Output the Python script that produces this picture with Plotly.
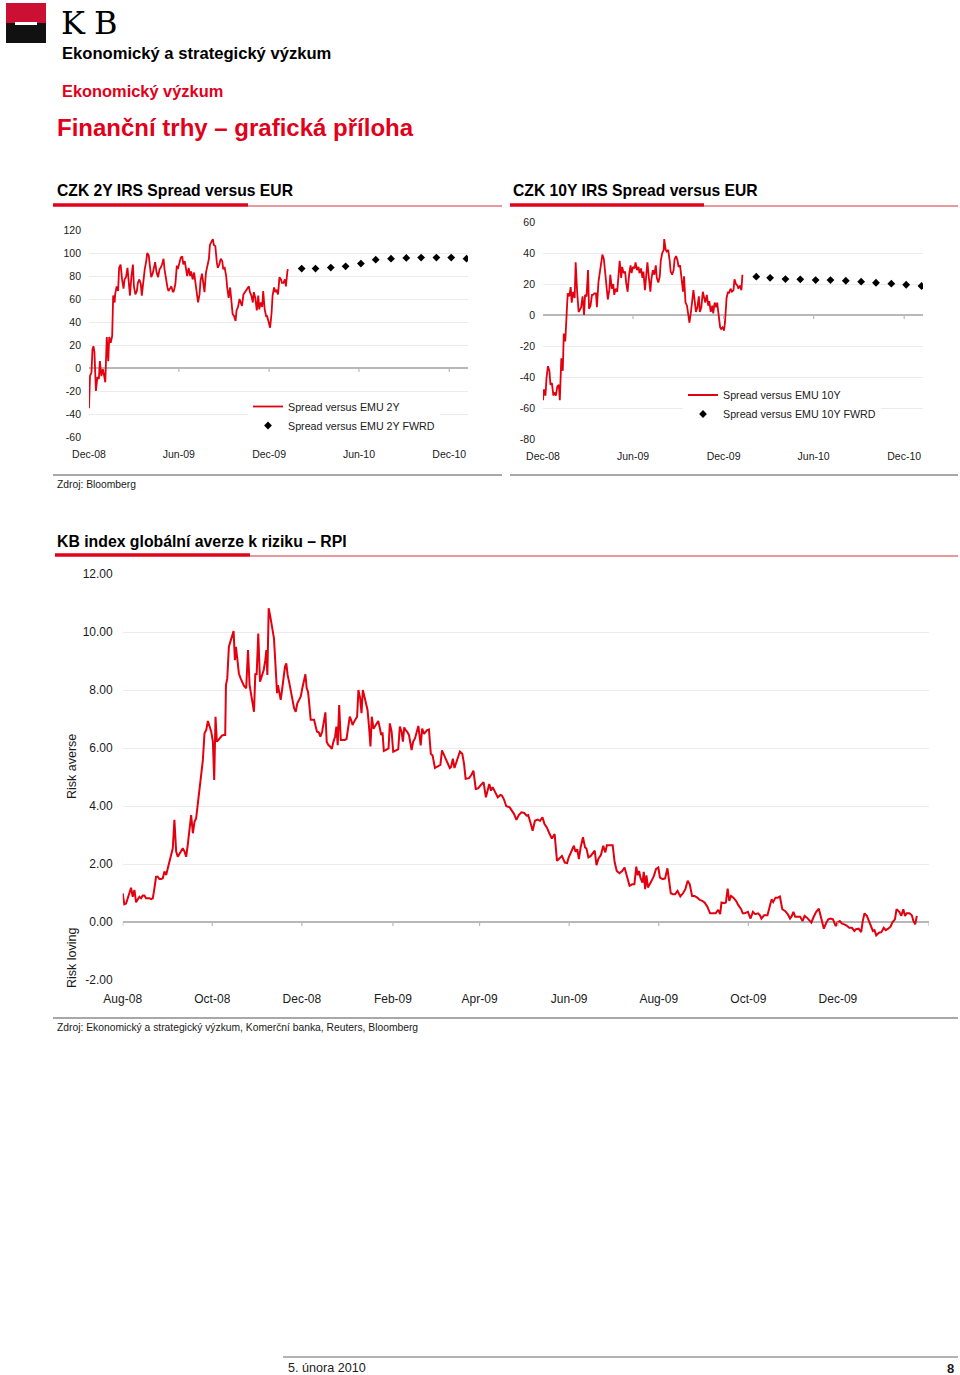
import pandas as pd
import plotly.graph_objects as go

# ---------------- DATA ----------------
# CZK 2Y IRS spread vs EUR (bp), day offsets from 2008-12-01
start_spread = "2008-12-01"
days_2y = [0, 2, 5, 7, 9, 11, 14, 17, 20, 22, 25, 28, 30, 33, 36, 39, 41, 44, 47, 49, 52,
           53, 56, 59, 61, 64, 67, 70, 72, 75, 78, 80, 83, 86, 89, 91, 94, 97, 99, 102, 105,
           107, 110, 113, 116, 118, 121, 124, 126, 129, 132, 134, 137, 140, 143, 145, 148, 151, 153, 156, 159,
           161, 164, 167, 170, 172, 175, 178, 180, 183, 186, 189, 191, 194, 197, 199, 202, 205, 207, 210, 213,
           216, 218, 221, 224, 226, 229, 232, 234, 237, 240, 243, 245, 248, 251, 253, 256, 259, 261, 264, 267,
           270, 272, 275, 278, 280, 283, 286, 289, 291, 294, 297, 299, 302, 305, 307, 310, 313, 316, 318, 321,
           324, 326, 329, 332, 334, 337, 340, 343, 345, 348, 351, 353, 356, 359, 361, 364, 367, 370, 372, 375,
           378, 380, 383, 386, 389, 391, 394, 397, 399, 402, 403]
spread_2y = [-35, -7, -4, 16, 19, 14, -20, -8, -9.5, 6, -7, -1, -5, -12.4, 27, 6, 27, 22, 28, 63, 57,
             64, 71, 67, 87, 90, 77, 69, 77, 79, 87, 77, 63, 80, 90, 71, 64, 67, 74, 77, 73,
             63, 77, 86, 93, 100, 98, 87, 79, 82, 90, 92, 83, 79, 86, 87, 90, 95, 86, 77, 70,
             67, 69, 71, 66, 67, 73, 89, 86, 92, 96, 97, 90, 93, 84, 80, 87, 80, 84, 77, 83,
             73, 66, 57, 64, 76, 82, 74, 66, 83, 89, 95, 107, 109, 112, 107, 106, 92, 87, 90, 95,
             93, 86, 87, 80, 70, 61, 70, 54, 47, 45, 41, 50, 53, 60, 58, 54, 64, 66, 68, 70,
             71, 66, 63, 57, 66, 61, 50, 63, 51, 57, 53, 67, 51, 45, 45, 40, 35, 48, 63, 70,
             66, 68, 64, 79, 77, 74, 74, 77, 71, 84, 86]

# CZK 10Y IRS spread vs EUR (bp)
days_10y = [0, 2, 5, 7, 10, 13, 15, 18, 21, 23, 26, 29, 32, 34, 37, 40, 42, 45, 48, 50, 53, 56,
            58, 61, 64, 66, 69, 72, 74, 77, 80, 83, 85, 88, 91, 93, 96, 99, 101, 104, 107, 109,
            112, 115, 117, 120, 123, 126, 128, 131, 134, 136, 139, 142, 144, 147, 150, 152, 155, 158, 160,
            163, 166, 168, 171, 174, 177, 179, 182, 185, 187, 190, 193, 195, 198, 201, 203, 206, 209, 211,
            214, 217, 219, 222, 225, 228, 230, 233, 236, 238, 241, 244, 245,
            248, 250, 253, 256, 258, 261, 264, 266, 269, 272, 274, 277, 280, 283, 285, 288, 291, 293,
            296, 299, 301, 304, 307, 309, 312, 315, 317, 320, 323, 326, 328, 331, 334, 336, 339, 342,
            344, 347, 350, 352, 355, 358, 360, 363, 366, 368, 371, 374, 376, 379, 382, 385, 387, 390,
            393, 395, 398, 401, 403]
spread_10y = [-55, -48, -52, -41, -33, -36, -45, -44, -52, -50, -52, -46, -45, -55, -28, -36, -12, -17,
              2, 14, 12, 18, 8, 15, 11, 34, 15, 2, 3, 5, 12, 0, 13, 12, 29, 4, 6, 13, 13, 14, 14, 5,
              21, 27, 32, 39, 36, 26, 24, 10, 16, 26, 17, 20, 13, 17, 15, 24, 35, 24, 31, 27,
              28, 21, 15, 26, 32, 27, 31, 30, 34, 29, 31, 27, 30, 24, 28, 16, 26, 34, 24, 15,
              23, 29, 26, 32, 24, 21, 25, 35, 40, 42, 49,
              42, 41, 42, 35, 28, 26, 29, 36, 38, 35, 31, 32, 24, 15, 25, 8, 6, 2, -5, 2,
              8, 16, 8, 2, 5, 12, 2, 5, 15, 11, 8, 13, 6, 9, 2, 6, 1, 8, 5, 8,
              1, -8, -9, -8, -10, -4, 11, 15, 14, 17, 15, 16, 23, 20, 19, 17, 19, 16, 26]

# Forward spreads (monthly from Feb-10)
fwd_dates = ["2010-02-05", "2010-03-05", "2010-04-05", "2010-05-05", "2010-06-05", "2010-07-05",
             "2010-08-05", "2010-09-05", "2010-10-05", "2010-11-05", "2010-12-05", "2011-01-05"]
fwd_2y = [86.5, 86.5, 87.3, 88.4, 90.8, 94.2, 95.1, 95.7, 96.0, 96.0, 96.0, 95.1]
fwd_10y = [24.7, 24.0, 23.2, 23.0, 22.5, 22.5, 22.1, 21.5, 20.8, 20.2, 19.5, 18.7]

# KB RPI index, day offsets from 2008-08-01
start_rpi = "2008-08-01"
rpi_days = [0, 1.1, 2.3, 3.4, 4.5, 5.7, 6.8, 8.0, 9.1, 10.2, 11.4, 12.5, 13.6, 14.8, 15.9, 17.1, 18.2,
            19.3, 20.5, 21.6, 22.7, 23.9, 25.0, 26.2, 27.3, 28.4, 29.6, 30.7, 31.8, 33.0, 34.1, 35.2,
            36.4, 37.5, 38.7, 39.8, 40.9, 42.1, 43.2, 44.3, 45.5, 46.6, 47.8, 48.9, 50.0, 51.2, 52.3,
            53.4, 54.6, 55.7, 56.9, 58.0, 59.1, 60.3, 61.4, 62.3, 63.2, 64.1, 65.3, 66.4, 67.5, 68.9,
            69.8, 70.3, 71.2, 72.3, 73.5, 74.6, 75.5, 76.4, 77.1, 78.0, 79.1, 80.3, 81.4, 82.5, 84.1,
            85.3, 86.4, 87.5, 88.5, 89.4, 90.3, 91.2, 92.3, 93.5, 94.6, 96.0, 97.1, 97.8, 98.5, 99.4,
            100.5, 101.7, 103.0, 103.9, 105.1, 105.7, 106.7, 107.6, 108.5, 109.4, 110.5, 111.4, 112.3,
            113.5, 114.4, 115.5, 116.7, 117.8, 118.9, 120.1, 121.2, 122.3, 123.5, 124.4, 125.3, 126.2,
            127.1, 128.0, 129.2, 130.3, 131.4, 132.3, 133.5, 134.6, 135.8, 136.9, 138.0, 138.9, 140.1,
            141.2, 142.4, 143.5, 144.6, 145.5, 146.4, 147.4, 148.5, 149.9, 151.2, 152.4, 153.5, 154.6,
            155.5, 156.5, 157.6, 158.7, 159.6, 160.5, 161.7, 162.6, 163.5, 164.6, 165.8, 166.7, 167.8,
            168.7, 169.6, 170.8, 171.7, 172.8, 174.0, 175.1, 176.0, 176.9, 177.8, 179.0, 180.1, 181.0,
            181.9, 183.1, 184.2, 185.3, 186.5, 187.6, 188.7, 189.9, 190.8, 191.7, 192.6, 193.7, 194.9,
            195.8, 196.7, 197.8, 199.0,
            201.3, 202.9, 203.9, 205.2, 207.1, 208.5, 209.8, 211.0, 212.6, 214.4, 216.3, 217.4, 219.0,
            220.9, 222.7, 223.6, 224.8, 225.9, 227.8, 229.6, 231.2, 232.4, 233.5, 235.8, 237.4, 238.8,
            240.4, 242.0, 243.9, 245.7, 247.3, 248.5, 249.6, 250.8, 251.9, 253.6, 255.4, 257.2, 258.2,
            259.5, 261.2, 263.4, 265.1, 266.4, 268.1, 269.7, 271.5, 273.4, 275.0, 276.1, 277.9, 279.1,
            280.7, 282.5, 284.2, 285.8, 287.2, 288.8, 290.4, 292.2, 294.1, 295.7, 297.3, 299.1, 301.0,
            302.6, 303.7, 305.6, 307.2, 308.3, 309.5, 310.6, 311.8, 313.4, 314.8, 315.7, 317.1, 318.7,
            319.8, 321.4, 322.6, 324.0, 325.6, 327.2, 328.6, 329.7, 331.3, 333.6, 335.0, 336.4, 338.2,
            340.1, 341.7, 343.3, 345.1, 347.0, 348.4, 349.7, 350.7, 351.6, 352.5, 353.9, 354.8, 355.7,
            356.6, 357.6, 358.9, 360.1, 361.7, 363.1, 364.7, 365.8, 367.7, 369.3, 370.9, 372.3, 373.2,
            374.6, 376.2, 377.8, 379.7, 381.5, 383.1, 384.7, 386.1, 387.7, 389.3, 391.2, 393.0, 394.6,
            396.2, 398.1, 399.9, 401.5, 403.8, 405.4, 406.8, 407.7, 409.6, 410.7, 411.9, 413.0, 414.2,
            415.8, 417.6, 419.2, 421.1, 422.2, 423.4, 425.7, 427.5, 429.1, 430.7, 432.6, 433.9, 434.9,
            436.7, 439.0, 440.6, 441.8, 442.9, 444.5, 445.9, 447.5, 449.1, 451.0, 452.8, 454.4, 455.6,
            456.7, 457.9, 459.7, 461.3, 462.9, 464.3, 465.9, 467.5, 468.9, 470.5, 472.2, 474.0, 475.8,
            477.4, 479.1, 480.4, 482.0, 483.6, 485.5, 486.6, 488.3, 489.6, 491.3, 492.9, 494.7, 496.5,
            498.2, 499.3, 501.1, 502.8, 503.9, 505.1, 506.7, 508.5, 509.7, 510.8, 511.9, 513.1, 514.9,
            516.6, 518.2, 519.6, 521.2, 522.8, 524.2, 525.8, 526.9, 528.8, 530.1, 531.5, 532.7, 533.8,
            535.7, 537.3, 538.4, 539.6, 540.7]
rpi_values = [0.99, 0.61, 0.64, 0.82, 0.93, 1.18, 0.87, 1.10, 0.68, 0.76, 0.87, 0.82, 0.91, 0.91, 0.82,
              0.82, 0.82, 0.79, 0.82, 1.16, 1.56, 1.56, 1.48, 1.48, 1.51, 1.74, 1.62, 1.85, 2.08, 2.31,
              2.54, 3.52, 2.43, 2.25, 2.37, 2.43, 2.54, 2.43, 2.25, 2.66, 3.23, 3.69, 3.06, 3.46, 3.57,
              4.15, 4.61, 5.07, 5.59, 6.51, 6.62, 6.93, 6.74, 6.56, 6.22, 4.90, 7.08, 6.22, 6.28, 6.36,
              6.43, 6.45, 6.45, 8.17, 8.40, 9.49, 9.72, 9.95, 10.03, 9.03, 9.49, 9.09, 8.57, 8.40, 8.26,
              8.15, 8.06, 9.38, 8.17, 7.83, 7.54, 7.25, 8.57, 8.52, 9.95, 8.29, 8.46, 8.69, 9.03, 9.38,
              8.52, 10.82, 10.53, 10.13, 9.78, 8.98, 7.89, 8.17, 7.94, 7.66, 8.00, 8.40, 8.80, 8.92,
              8.52, 8.23, 7.94, 7.66, 7.37, 7.25, 7.54, 7.66, 7.77, 8.06, 8.29, 8.54, 8.06, 7.94, 7.48,
              6.97, 6.97, 6.97, 6.74, 6.56, 6.54, 6.39, 6.56, 6.85, 7.23, 6.22, 6.10, 6.05, 5.97, 6.22,
              6.39, 6.74, 6.10, 7.48, 6.28, 6.28, 6.28, 6.31, 6.68, 7.08, 6.97, 6.79, 6.91, 7.02, 7.08,
              8.00, 7.71, 7.20, 8.00, 7.77, 7.54, 7.31, 6.68, 6.05, 7.08, 6.66, 6.74, 6.85, 6.93, 6.68,
              6.45, 6.54, 5.90, 5.93, 5.95, 5.99, 6.85, 6.56, 5.87, 5.90, 5.93, 5.95, 6.74, 6.56, 6.22,
              6.71, 6.62, 6.56, 6.45, 6.16, 5.93, 6.22, 6.33,
              6.76, 6.09, 6.67, 6.49, 6.61, 6.64, 5.80, 5.74, 5.31, 5.37, 5.42, 5.92, 5.74, 5.51, 5.31,
              5.35, 5.63, 5.31, 5.57, 5.88, 5.80, 5.46, 4.94, 4.96, 5.07, 5.22, 4.59, 4.61, 4.73, 4.82,
              4.30, 4.59, 4.76, 4.53, 4.65, 4.48, 4.30, 4.38, 4.36, 4.24, 3.99, 3.96, 3.84, 3.73, 3.52,
              3.69, 3.78, 3.76, 3.67, 3.69, 3.38, 3.15, 3.49, 3.53, 3.49, 3.61, 3.38, 3.26, 3.07, 2.88,
              3.03, 2.11, 2.19, 2.28, 2.05, 2.03, 2.23, 2.42, 2.63, 2.42, 2.51, 2.17, 2.57, 2.92, 2.57,
              2.54, 2.23, 2.28, 2.34, 2.46, 1.96, 2.19, 2.31, 2.63, 2.40, 2.65, 2.65, 2.65, 2.05, 1.76,
              1.68, 1.76, 1.88, 1.59, 1.25, 1.30, 1.30, 1.91, 1.61, 1.76, 1.53, 1.36, 1.73, 1.13, 1.61,
              1.19, 1.30, 1.42, 1.59, 1.82, 1.88, 1.53, 1.48, 1.50, 1.85, 1.42, 0.99, 0.96, 0.96, 1.07,
              0.88, 0.99, 1.13, 1.42, 1.30, 0.90, 0.90, 0.84, 0.76, 0.73, 0.67, 0.53, 0.30, 0.30, 0.30,
              0.42, 0.27, 0.67, 0.65, 0.67, 1.15, 0.73, 0.90, 0.84, 0.73, 0.58, 0.44, 0.30, 0.30, 0.35,
              0.12, 0.35, 0.27, 0.30, 0.23, 0.12, 0.23, 0.23, 0.61, 0.78, 0.69, 0.84, 0.84, 0.88, 0.44,
              0.38, 0.27, 0.12, 0.21, 0.35, 0.18, 0.18, 0.18, 0.03, 0.21, 0.15, 0.07, -0.02, 0.18, 0.35,
              0.46, 0.03, -0.23, -0.02, 0.09, 0.12, 0.09, -0.14, -0.02, 0.03, -0.05, -0.08, -0.12, -0.20,
              -0.20, -0.31, -0.25, -0.23, -0.35, 0.03, 0.30, 0.21, -0.02, -0.16, -0.31, -0.28, -0.46,
              -0.37, -0.35, -0.20, -0.28, -0.23, -0.16, 0.00, 0.09, 0.44, 0.35, 0.21, 0.44, 0.21, 0.30,
              0.30, 0.23, 0.03, -0.08, 0.21]

# Axis ticks / labels
spread_xticks = ["2008-12-01", "2009-06-01", "2009-12-01", "2010-06-01", "2010-12-01"]
spread_xlabels = ["Dec-08", "Jun-09", "Dec-09", "Jun-10", "Dec-10"]
y2_ticks = [-60, -40, -20, 0, 20, 40, 60, 80, 100, 120]
y10_ticks = [-80, -60, -40, -20, 0, 20, 40, 60]
rpi_xticks = ["2008-08-01", "2008-10-01", "2008-12-01", "2009-02-01", "2009-04-01",
              "2009-06-01", "2009-08-01", "2009-10-01", "2009-12-01"]
rpi_xlabels = ["Aug-08", "Oct-08", "Dec-08", "Feb-09", "Apr-09", "Jun-09", "Aug-09", "Oct-09", "Dec-09"]
rpi_yticks = [-2, 0, 2, 4, 6, 8, 10, 12]

assert len(days_2y) == len(spread_2y)
assert len(days_10y) == len(spread_10y)
assert len(rpi_days) == len(rpi_values)

# ---------------- HELPERS ----------------
W, H = 960, 1375
def px(x):
    return x / W
def py(y):
    return 1 - y / H

FONT = "Liberation Sans, Arial, Helvetica, sans-serif"
RED = "#e2001a"
LINE_RED = "#e3000f"
TXT = "#1a1a1a"
GRID = "#ebebeb"
ZERO = "#b8b8b8"

def to_dates(start, days):
    base = pd.Timestamp(start)
    return [base + pd.Timedelta(days=d) for d in days]

fig = go.Figure()

fig.add_trace(go.Scatter(x=to_dates(start_spread, days_2y), y=spread_2y, mode="lines",
                         line=dict(color=LINE_RED, width=1.8), name="Spread versus EMU 2Y",
                         xaxis="x", yaxis="y", legend="legend"))
fig.add_trace(go.Scatter(x=fwd_dates, y=fwd_2y, mode="markers",
                         marker=dict(symbol="diamond", size=6, color="black"),
                         name="Spread versus EMU 2Y FWRD", xaxis="x", yaxis="y", legend="legend"))
fig.add_trace(go.Scatter(x=to_dates(start_spread, days_10y), y=spread_10y, mode="lines",
                         line=dict(color=LINE_RED, width=1.8), name="Spread versus EMU 10Y",
                         xaxis="x2", yaxis="y2", legend="legend2"))
fig.add_trace(go.Scatter(x=fwd_dates, y=fwd_10y, mode="markers",
                         marker=dict(symbol="diamond", size=6, color="black"),
                         name="Spread versus EMU 10Y FWRD", xaxis="x2", yaxis="y2", legend="legend2"))
fig.add_trace(go.Scatter(x=to_dates(start_rpi, rpi_days), y=rpi_values, mode="lines",
                         line=dict(color=LINE_RED, width=2), name="RPI",
                         xaxis="x3", yaxis="y3", showlegend=False))

xcommon = dict(type="date", showgrid=False, zeroline=False, showline=False, ticks="",
               tickfont=dict(family=FONT, size=10.5, color=TXT), fixedrange=True, automargin=False)
ycommon = dict(showgrid=True, gridcolor=GRID, gridwidth=1, zeroline=True, zerolinecolor=ZERO,
               zerolinewidth=1.5, showline=False, ticks="", automargin=False,
               tickfont=dict(family=FONT, size=10.5, color=TXT), fixedrange=True)

fig.update_layout(
    width=W, height=H, margin=dict(l=0, r=0, t=0, b=0, pad=0, autoexpand=False),
    paper_bgcolor="white", plot_bgcolor="white",
    font=dict(family=FONT, color=TXT),
    xaxis=dict(xcommon, domain=[px(89), px(468)], anchor="y",
               range=["2008-12-01", "2011-01-08"], tickvals=spread_xticks, ticktext=spread_xlabels,
               ticklabelstandoff=9),
    yaxis=dict(ycommon, domain=[py(437), py(230)], anchor="x", range=[-60, 120],
               tickvals=y2_ticks, ticktext=[str(v) for v in y2_ticks], ticklabelstandoff=7),
    xaxis2=dict(xcommon, domain=[px(543), px(923)], anchor="y2",
                range=["2008-12-01", "2011-01-08"], tickvals=spread_xticks, ticktext=spread_xlabels,
                ticklabelstandoff=9),
    yaxis2=dict(ycommon, domain=[py(439), py(222)], anchor="x2", range=[-80, 60],
                tickvals=y10_ticks, ticktext=[str(v) for v in y10_ticks], ticklabelstandoff=7),
    xaxis3=dict(xcommon, domain=[px(122.7), px(929)], anchor="y3",
                range=["2008-08-01", "2010-02-01"], tickvals=rpi_xticks, ticktext=rpi_xlabels,
                tickfont=dict(family=FONT, size=12, color=TXT), ticklabelstandoff=10),
    yaxis3=dict(ycommon, domain=[py(980), py(574)], anchor="x3", range=[-2, 12],
                tickvals=rpi_yticks, ticktext=["%.2f" % v for v in rpi_yticks],
                tickfont=dict(family=FONT, size=12, color=TXT), ticklabelstandoff=9),
    legend=dict(x=px(248), y=py(392), xanchor="left", yanchor="top", bgcolor="white",
                font=dict(family=FONT, size=10.7, color=TXT), tracegroupgap=0, borderwidth=0),
    legend2=dict(x=px(683), y=py(380.5), xanchor="left", yanchor="top", bgcolor="white",
                 font=dict(family=FONT, size=10.7, color=TXT), tracegroupgap=0, borderwidth=0),
)

shapes = []
# Logo
shapes.append(dict(type="rect", xref="paper", yref="paper", x0=px(6), x1=px(46), y0=py(23), y1=py(3),
                   fillcolor="#cc1034", line=dict(width=0)))
shapes.append(dict(type="rect", xref="paper", yref="paper", x0=px(6), x1=px(46), y0=py(43), y1=py(23),
                   fillcolor="#111111", line=dict(width=0)))
shapes.append(dict(type="rect", xref="paper", yref="paper", x0=px(15), x1=px(37), y0=py(25), y1=py(22),
                   fillcolor="white", line=dict(width=0)))

def hline(x0, x1, y, color, width):
    shapes.append(dict(type="line", xref="paper", yref="paper", x0=px(x0), x1=px(x1), y0=py(y), y1=py(y),
                       line=dict(color=color, width=width)))

# title underlines
hline(53, 248, 205, RED, 3.5)
hline(248, 502, 206, "#d4343f", 1.2)
hline(510, 704, 205, RED, 3.5)
hline(704, 958, 206, "#d4343f", 1.2)
hline(55, 250, 555, RED, 3.5)
hline(250, 958, 556, "#d4343f", 1.2)
# bottom rules
hline(53, 502, 475, "#a8a8a8", 2)
hline(510, 958, 475, "#a8a8a8", 2)
hline(53, 958, 1018, "#a8a8a8", 2)
hline(283, 958, 1357, "#9a9a9a", 1.5)

# small tick marks on the zero lines
for xr, yr, ticks in [("x", "y", spread_xticks[1:]), ("x2", "y2", spread_xticks[1:]),
                      ("x3", "y3", rpi_xticks + ["2010-02-01"])]:
    for t in ticks:
        shapes.append(dict(type="line", xref=xr, yref=yr, ysizemode="pixel", yanchor=0,
                           x0=t, x1=t, y0=0, y1=-4, line=dict(color=ZERO, width=1.2)))

fig.update_layout(shapes=shapes)

ann = []
def text(x, y, s, size, color=TXT, family=FONT, anchor="left", angle=0):
    ann.append(dict(x=px(x), y=py(y), xref="paper", yref="paper", text=s, showarrow=False,
                    xanchor=anchor, yanchor="middle", textangle=angle,
                    font=dict(family=family, size=size, color=color)))

text(59, 23, "K", 32, color="black", family="DejaVu Serif")
text(92, 23, "B", 32, color="black", family="DejaVu Serif")
text(60, 53, "<b>Ekonomický a strategický výzkum</b>", 16.6, color="black")
text(60, 91, "<b>Ekonomický výzkum</b>", 16.4, color=RED)
text(55, 127, "<b>Finanční trhy – grafická příloha</b>", 24, color=RED)
text(55, 191, "<b>CZK 2Y IRS Spread versus EUR</b>", 15.7, color="black")
text(511, 191, "<b>CZK 10Y IRS Spread versus EUR</b>", 15.7, color="black")
text(55, 541, "<b>KB index globální averze k riziku – RPI</b>", 15.8, color="black")
text(55, 484, "Zdroj: Bloomberg", 10.3)
text(55, 1027, "Zdroj: Ekonomický a strategický výzkum, Komerční banka, Reuters, Bloomberg", 10.3)
text(72, 767, "Risk averse", 12.5, anchor="center", angle=-90)
text(72, 958, "Risk loving", 12.5, anchor="center", angle=-90)
text(286, 1368, "5. února 2010", 12.6)
text(956, 1368, "<b>8</b>", 13, anchor="right")
fig.update_layout(annotations=ann)

fig.write_html("out.html", config={"displayModeBar": False},
               post_script=("document.body.style.margin='0';"
                            "var g=document.getElementById('{plot_id}');"
                            "g.style.position='fixed';g.style.left='0px';g.style.top='0px';"))
